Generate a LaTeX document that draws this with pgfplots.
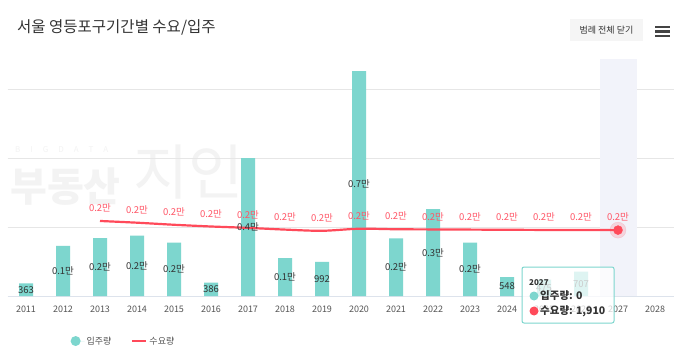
\documentclass[border=0pt]{standalone}
\usepackage{pgfplots}
\pgfplotsset{compat=1.18}
\usepackage{fontspec}
\setmainfont{Noto Sans CJK KR}
\definecolor{teal1}{HTML}{7DD6CE}
\definecolor{red1}{HTML}{FF4A5A}
\definecolor{redlab}{HTML}{FF5566}
\definecolor{gridc}{HTML}{E6E6E6}
\definecolor{basec}{HTML}{DDE3EC}
\definecolor{bandc}{HTML}{F2F3FA}
\definecolor{txt}{HTML}{333333}
\definecolor{ticktxt}{HTML}{555555}
\definecolor{wm}{HTML}{F3F3F3}
\definecolor{btn}{HTML}{F5F5F5}
\definecolor{ham}{HTML}{444444}
\pgfdeclarelayer{bg}
\pgfsetlayers{bg,main}
\begin{document}
\begin{tikzpicture}[x=1pt,y=1pt]
\begin{axis}[
  scale only axis,
  width=666pt, height=237pt,
  xmin=-0.5, xmax=17.5, ymin=0, ymax=6870,
  axis x line=bottom, axis y line=left,
  x axis line style={draw=basec, line width=1pt, -},
  y axis line style={draw=none},
  xtick={0,1,2,3,4,5,6,7,8,9,10,11,12,13,14,15,16,17},
  xticklabels={2011,2012,2013,2014,2015,2016,2017,2018,2019,2020,2021,2022,2023,2024,2025,2026,2027,2028},
  ytick={2000,4000,6000}, yticklabels={},
  ymajorgrids, grid style={draw=gridc, line width=0.8pt},
  major tick length=0pt, tick style={draw=none},
  xticklabel style={font=\fontsize{9}{9}\selectfont, text=ticktxt, yshift=-6pt},
  clip=false,
  legend style={at={(axis description cs:0.09,-0.19)}, anchor=west, draw=none, fill=none,
    legend columns=2, font=\fontsize{9}{9}\selectfont, text=ticktxt,
    /tikz/every even column/.append style={column sep=18pt}},
]
\coordinate (O) at (axis cs:-0.5,0);
\fill[bandc] (axis cs:15.5,0) rectangle (axis cs:16.5,6870);
\addplot[ybar, bar width=14pt, bar shift=0pt, fill=teal1, draw=none,
  point meta=explicit symbolic, nodes near coords,
  visualization depends on={rawy \as \rawy},
  every node near coord/.append style={anchor=center, font=\fontsize{9.5}{9.5}\selectfont, text=txt,
    shift={(axis direction cs:0,-\rawy/2)}},
  legend image code/.code={\fill[teal1] (5pt,0pt) circle (5pt); \path (0pt,0pt) -- (14pt,0pt);}]
coordinates {
(0,363) [363]
(1,1450) [0.1만]
(2,1680) [0.2만]
(3,1750) [0.2만]
(4,1550) [0.2만]
(5,386) [386]
(6,4000) [0.4만]
(7,1100) [0.1만]
(8,992) [992]
(9,6520) [0.7만]
(10,1670) [0.2만]
(11,2520) [0.3만]
(12,1550) [0.2만]
(13,548) [548]
(14,475) [475]
(15,707) [707]
};
\addlegendentry{입주량}
\addplot[red1, line width=2.2pt, smooth, mark=none,
  point meta=explicit symbolic, nodes near coords,
  every node near coord/.append style={anchor=center, yshift=13pt, font=\fontsize{9.5}{9.5}\selectfont, text=redlab},
  legend image code/.code={\draw[red1, line width=2pt] (0pt,0pt) -- (14pt,0pt);}]
coordinates {
(2,2175) [0.2만]
(3,2125) [0.2만]
(4,2065) [0.2만]
(5,2015) [0.2만]
(6,1975) [0.2만]
(7,1925) [0.2만]
(8,1890) [0.2만]
(9,1950) [0.2만]
(10,1935) [0.2만]
(11,1930) [0.2만]
(12,1925) [0.2만]
(13,1920) [0.2만]
(14,1915) [0.2만]
(15,1912) [0.2만]
(16,1910) [0.2만]
};
\addlegendentry{수요량}
\addplot[forget plot, only marks, color=red1, mark=*, mark size=8pt, mark options={fill=red1, draw=red1, opacity=0.18}] coordinates {(16,1910)};
\addplot[forget plot, only marks, color=red1, mark=*, mark size=4.5pt, mark options={fill=red1, draw=red1}] coordinates {(16,1910)};
\end{axis}
\begin{scope}[shift={(O)}]
\begin{scope}[xshift=-7.5pt, yshift=-66pt]
\begin{pgfonlayer}{bg}
\fill[white] (0,0) rectangle (685,362);
\node[anchor=west, text=wm, font=\fontsize{8}{8}\selectfont, inner sep=0pt] at (15,212) {B\hspace{10pt}I\hspace{10pt}G\hspace{10pt}D\hspace{10pt}A\hspace{10pt}T\hspace{10pt}A};
\node[anchor=west, text=wm, font=\fontsize{40}{40}\selectfont\bfseries, inner sep=0pt] at (10,175) {부동산};
\node[anchor=west, text=wm, font=\fontsize{60}{60}\selectfont, inner sep=0pt] at (133,190) {지인};
\end{pgfonlayer}
% title and buttons
\node[anchor=west, text=txt, font=\fontsize{15.5}{16}\selectfont, inner sep=0pt] at (17,335) {서울 영등포구기간별 수요/입주};
\fill[btn] (570,343) rectangle (643,321);
\node[text=txt, font=\fontsize{9}{9}\selectfont, inner sep=0pt] at (606.5,332) {범례 전체 닫기};
\fill[ham] (655,336.2) rectangle (670,334);
\fill[ham] (655,331.6) rectangle (670,329.4);
\fill[ham] (655,327) rectangle (670,324.8);
% tooltip
\fill[white, fill opacity=0.75, rounded corners=2pt] (522,95) rectangle (614,39);
\draw[teal1, line width=1pt, rounded corners=2pt] (522,95) rectangle (614,39);
\node[anchor=west, text=txt, font=\fontsize{8}{8}\selectfont\bfseries, inner sep=0pt] at (529,79) {2027};
\fill[teal1] (534,66) circle (4.5pt);
\node[anchor=west, text=txt, font=\fontsize{10.5}{10.5}\selectfont\bfseries, inner sep=0pt] at (540,66) {입주량: 0};
\fill[red1] (534,51) circle (4.5pt);
\node[anchor=west, text=txt, font=\fontsize{10.5}{10.5}\selectfont\bfseries, inner sep=0pt] at (540,51) {수요량: 1,910};
\pgfresetboundingbox
\path[use as bounding box] (0,0) rectangle (685,362);
\end{scope}
\end{scope}
\end{tikzpicture}
\end{document}
